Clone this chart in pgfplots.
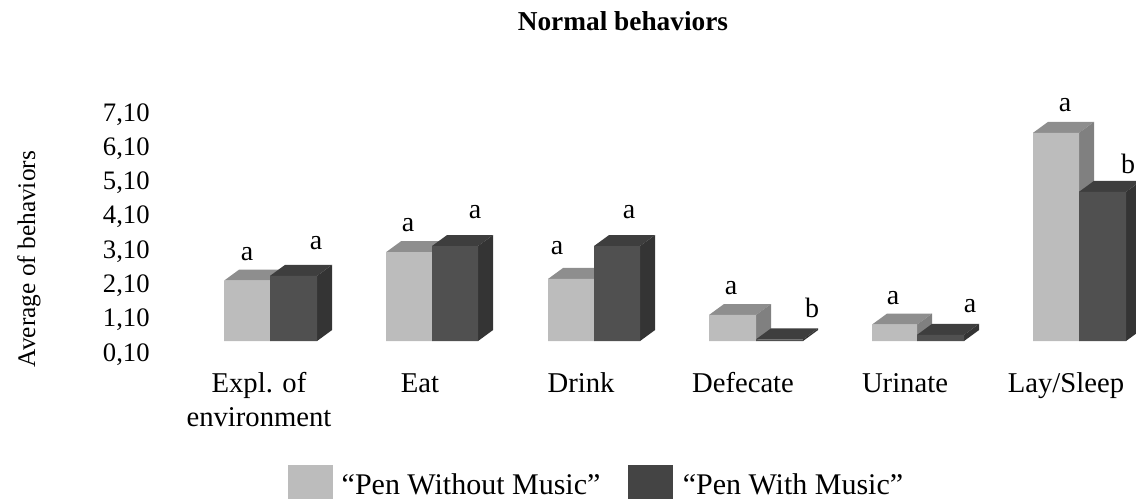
\documentclass[border=0pt]{standalone}
\usepackage{pgfplots}
\pgfplotsset{compat=1.18}
\usepackage{fontspec}
\setmainfont{Liberation Serif}
\definecolor{fL}{HTML}{BCBCBC}
\definecolor{tL}{HTML}{8E8E8E}
\definecolor{sL}{HTML}{808080}
\definecolor{fD}{HTML}{505050}
\definecolor{tD}{HTML}{3E3E3E}
\definecolor{sD}{HTML}{343434}
% #1 series, #2 left, #3 right, #4 left of back edge, #5 right of back edge, #6 top, #7 back top
\newcommand\cube[7]{%
  \addplot[fill=t#1,draw=none,forget plot] coordinates {(#2,#6)(#3,#6)(#5,#7)(#4,#7)(#2,#6)};
  \addplot[fill=s#1,draw=none,forget plot] coordinates {(#3,0.39)(#5,0.71)(#5,#7)(#3,#6)(#3,0.39)};
  \addplot[fill=f#1,draw=none,forget plot] coordinates {(#2,0.39)(#3,0.39)(#3,#6)(#2,#6)(#2,0.39)};
}
\newcommand\sig[3]{\node[font=\fontsize{21}{22}\selectfont,inner sep=0pt] at (axis cs:#1,#2) {#3};}
\begin{document}
\begin{tikzpicture}
\useasboundingbox (0,0) rectangle (852pt,374.25pt);
\begin{axis}[
  at={(116.25pt,96.75pt)},anchor=south west,
  scale only axis,width=735.75pt,height=210pt,
  xmin=155,xmax=1136,ymin=-0.454,ymax=7.71,
  no markers,
  axis line style={draw=none},
  tick style={draw=none},
  ytick={0.1,1.1,2.1,3.1,4.1,5.1,6.1,7.1},
  yticklabels={{0,10},{1,10},{2,10},{3,10},{4,10},{5,10},{6,10},{7,10}},
  yticklabel style={font=\fontsize{20}{22}\selectfont,anchor=east,xshift=-0.5pt,yshift=-2.5pt},
  xtick={259,420,581,743,905,1066},
  xticklabels={{\strut Expl. of\\\strut environment},\strut Eat,\strut Drink,\strut Defecate,\strut Urinate,\strut Lay/Sleep},
  xticklabel style={font=\fontsize{21.5}{25.5}\selectfont,align=center,anchor=north,inner sep=0pt},
  xticklabel shift=-1pt,
  ylabel={Average of behaviors},
  every axis y label/.style={at={(rel axis cs:-0.1285,0.396)},rotate=90,anchor=center,font=\fontsize{19}{22}\selectfont},
  title={\textbf{Normal behaviors}},
  every axis title/.style={at={(rel axis cs:0.477,1.246)},anchor=center,font=\fontsize{20.5}{22}\selectfont},
  legend columns=2,
  legend cell align=left,
  legend style={at={(rel axis cs:0.1356,-0.46)},anchor=south west,draw=none,fill=none,inner sep=0pt,outer sep=0pt,
    font=\fontsize{22.5}{24}\selectfont,
    /tikz/every even column/.style={column sep=19pt}},
  legend image code/.code={\fill[#1] (0pt,-10.5pt) rectangle (33.75pt,15pt);},
  clip=true,
]
\cube{L}{224}{270}{239}{285}{2.15}{2.47}
\cube{D}{270}{317}{285}{332}{2.29}{2.61}
\cube{L}{386}{432}{401}{447}{2.98}{3.30}
\cube{D}{432}{478}{447}{493}{3.16}{3.48}
\cube{L}{548}{594}{563}{609}{2.20}{2.52}
\cube{D}{594}{640}{609}{655}{3.16}{3.48}
\cube{L}{709}{756}{724}{771}{1.15}{1.47}
\cube{D}{756}{803}{771}{818}{0.44}{0.76}
\cube{L}{872}{917}{887}{932}{0.87}{1.19}
\cube{D}{917}{964}{932}{979}{0.57}{0.89}
\cube{L}{1033}{1079}{1048}{1094}{6.46}{6.78}
\cube{D}{1079}{1126}{1094}{1141}{4.74}{5.06}
\addlegendimage{fill=fL,draw=none}
\addlegendentry{\hspace{4.5pt}“Pen Without Music”}
\addlegendimage{fill=fD!85!black,draw=none}
\addlegendentry{\hspace{5pt}“Pen With Music”}
\sig{247}{2.93}{a}
\sig{316}{3.25}{a}
\sig{408}{3.77}{a}
\sig{475}{4.15}{a}
\sig{557}{3.10}{a}
\sig{629}{4.15}{a}
\sig{731}{1.94}{a}
\sig{812}{1.35}{b}
\sig{893}{1.65}{a}
\sig{970}{1.41}{a}
\sig{1065}{7.27}{a}
\sig{1128}{5.55}{b}
\end{axis}
\end{tikzpicture}
\end{document}
